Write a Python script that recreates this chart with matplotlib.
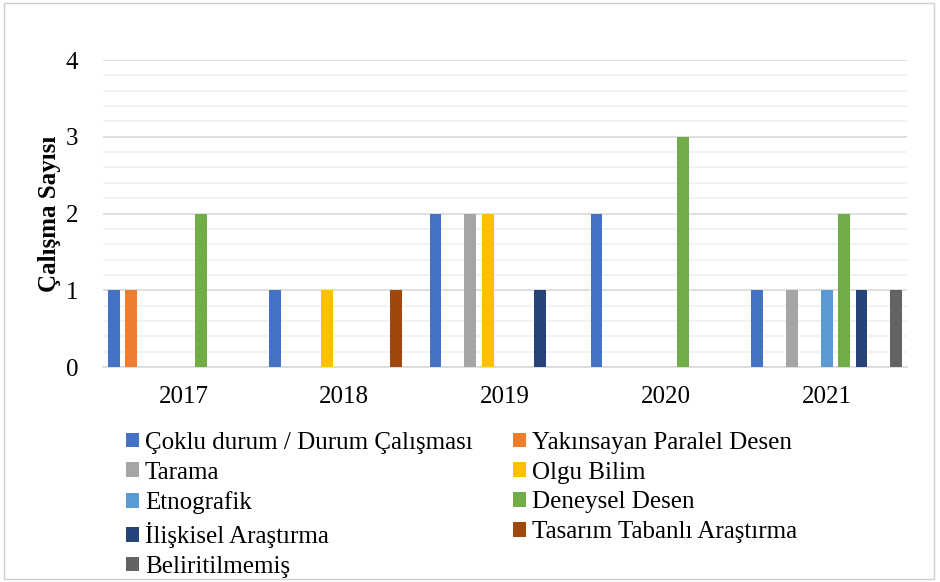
import numpy as np
import matplotlib
matplotlib.use('Agg')
import matplotlib.pyplot as plt
from matplotlib.patches import Rectangle
from matplotlib.ticker import MultipleLocator

plt.rcParams['font.family'] = ['Liberation Serif', 'DejaVu Serif']

years = ['2017', '2018', '2019', '2020', '2021']
series = ['Çoklu durum / Durum Çalışması', 'Yakınsayan Paralel Desen', 'Tarama',
          'Olgu Bilim', 'Etnografik', 'Deneysel Desen', 'İlişkisel Araştırma',
          'Tasarım Tabanlı Araştırma', 'Beliritilmemiş']
values = [
    [1, 1, 2, 2, 1],   # Çoklu durum
    [1, 0, 0, 0, 0],   # Yakınsayan
    [0, 0, 2, 0, 1],   # Tarama
    [0, 1, 2, 0, 0],   # Olgu Bilim
    [0, 0, 0, 0, 1],   # Etnografik
    [2, 0, 0, 3, 2],   # Deneysel
    [0, 0, 1, 0, 1],   # İlişkisel
    [0, 1, 0, 0, 0],   # Tasarım Tabanlı
    [0, 0, 0, 0, 1],   # Beliritilmemiş
]
colors = ['#4472C4', '#ED7D31', '#A5A5A5', '#FFC000', '#5B9BD5',
          '#70AD47', '#264478', '#9E480E', '#636363']

fs = 18
fig = plt.figure(figsize=(9.4, 5.82), dpi=100)
fig.patches.append(Rectangle((0.004, 0.005), 0.99, 0.99, transform=fig.transFigure,
                             fill=False, edgecolor='#d0d0d0', linewidth=1))
ax = fig.add_axes([0.1096, 0.3694, 0.8554, 0.5275])

x = np.arange(len(years))
step = 0.108
width = 0.073
bars = []
for i, (name, vals) in enumerate(zip(series, values)):
    b = ax.bar(x + (i - 4) * step, vals, width=width, color=colors[i], label=name, zorder=3)
    bars.append(b)

ax.set_xlim(-0.5, 4.5)
ax.set_ylim(0, 4)
ax.yaxis.set_major_locator(MultipleLocator(1))
ax.yaxis.set_minor_locator(MultipleLocator(0.2))
ax.grid(which='major', axis='y', color='#d9d9d9', linewidth=1.2, zorder=0)
ax.grid(which='minor', axis='y', color='#f0f0f0', linewidth=1.2, zorder=0)
ax.set_xticks(x)
ax.set_xticklabels(years, fontsize=fs)
ax.tick_params(axis='both', length=0, labelsize=fs)
ax.tick_params(axis='x', pad=14)
ax.tick_params(axis='y', pad=18)
ax.tick_params(which='minor', length=0)
for s in ['top', 'right', 'left']:
    ax.spines[s].set_visible(False)
ax.spines['bottom'].set_color('#d9d9d9')
ax.spines['bottom'].set_linewidth(1.2)
ax.set_ylabel('Çalışma Sayısı', fontsize=fs, fontweight='bold', labelpad=3)

order = [0, 2, 4, 6, 8, 1, 3, 5, 7]
fig.legend([bars[i] for i in order], [series[i] for i in order], ncol=2,
           loc='upper left', bbox_to_anchor=(0.134, 0.258), frameon=False,
           fontsize=fs, handlelength=0.52, handleheight=0.52, handletextpad=0.24,
           labelspacing=0.31, columnspacing=1.6, borderpad=0, borderaxespad=0)

plt.savefig('out.png', dpi=100)
